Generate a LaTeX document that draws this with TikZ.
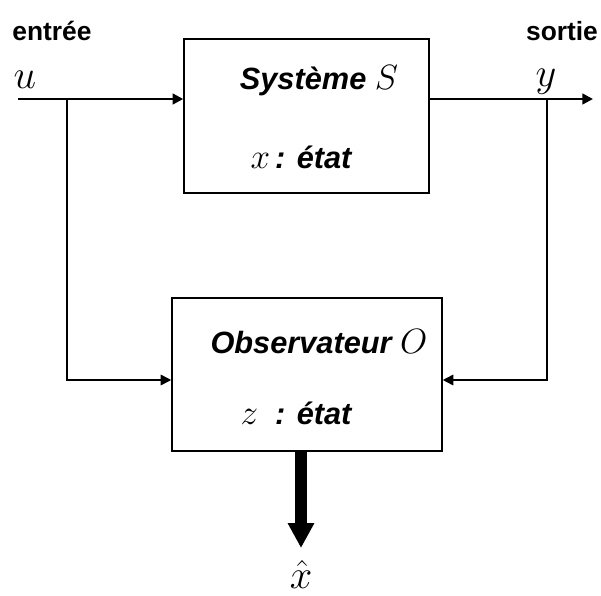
\documentclass[tikz,border=0pt]{standalone}
\usepackage{fix-cm}
\usepackage{amsmath}
\usepackage{fontspec}
\setmainfont{Liberation Sans}
\usetikzlibrary{arrows.meta, positioning}

\newcommand{\mvar}[2][20]{{\fontsize{#1}{#1}\selectfont$#2$}}

\tikzset{
  bloc/.style={draw, line width=0.9pt, inner sep=0pt},
  lbl/.style={font=\fontsize{15}{18}\selectfont\bfseries, inner sep=0pt},
  ilbl/.style={inner sep=0pt, font=\fontsize{17.5}{20}\selectfont\bfseries\itshape},
  signal/.style={->, line width=1.4pt},
  retour/.style={->, line width=0.9pt},
}

\begin{document}
\begin{tikzpicture}[x=0.02cm, y=-0.02cm, >={Triangle[length=6pt,width=6pt]}]
        \useasboundingbox (0,0) rectangle (601,595);
        % blocs
        \node[bloc, minimum width=4.9cm, minimum height=3.08cm] (sys) at (306.5,116) {};
        \node[bloc, minimum width=5.4cm, minimum height=3.06cm] (obs) at (307,374.5) {};

        % textes des blocs
        \node[ilbl] (sysname) at (319,81)  {Système \mvar{S}};
        \node[ilbl] (sysetat) at (301,157) {\mvar{x}\,: état};
        \node[ilbl] (obsname) at (319,342) {Observateur \mvar{O}};
        \node[ilbl] (obsetat) at (296,413) {\mvar{z}\ \ : état};

        % entree / sortie
        \node[lbl] (entree) at (52,31)  {entrée};
        \node[lbl] (sortie) at (562,31) {sortie};
        \node[inner sep=0pt] (u)    at (25,80)   {\mvar[23]{u}};
        \node[inner sep=0pt] (y)    at (546,82)  {\mvar[23]{y}};
        \node[inner sep=0pt] (xhat) at (301,574) {\mvar[23]{\hat{x}}};

        \coordinate (in)   at (18,99);
        \coordinate (out)  at (593,99);
        \coordinate (bu)   at (67,99);
        \coordinate (by)   at (547,99);
        \coordinate (ru)   at (67,380);
        \coordinate (ry)   at (547,380);
        \coordinate (est)  at (301,548);

        \draw[signal] (in) -- (in -| sys.west);
        \draw[signal] (sys.east |- out) -- (out);
        \draw[retour] (bu) -- (ru) -- (ru -| obs.west);
        \draw[retour] (by) -- (ry) -- (ry -| obs.east);
        \draw[-{Triangle[length=0.5cm,width=0.5cm]}, line width=0.24cm]
                (obs.south -| est) -- (est);
\end{tikzpicture}
\end{document}
